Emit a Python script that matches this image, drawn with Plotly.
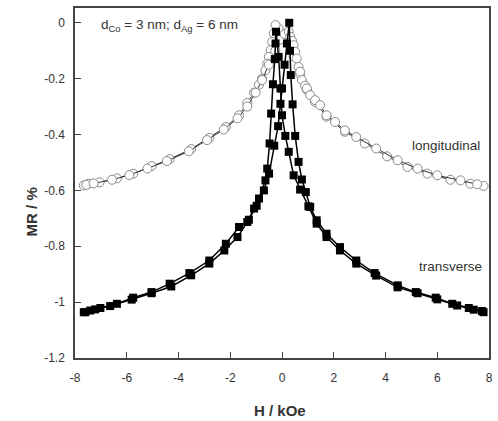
import plotly.graph_objects as go

# Longitudinal (open circles), two sweep branches
long_dec_H = [7.79, 7.28, 6.51, 5.62, 4.85, 4.06, 3.20, 2.43, 1.72, 1.28, 0.96, 0.70, 0.45, 0.20, 0.0,
              -0.13, -0.25, -0.32, -0.38, -0.44, -0.51, -0.57, -0.64, -0.77, -0.89, -1.08, -1.34, -1.66,
              -2.17, -2.81, -3.51, -4.34, -5.04, -5.75, -6.38, -7.05, -7.47, -7.66]
long_dec_MR = [-0.584, -0.576, -0.562, -0.540, -0.516, -0.478, -0.432, -0.390, -0.336, -0.283, -0.240,
               -0.185, -0.120, -0.070, -0.040, -0.020, -0.008, -0.038, -0.068, -0.098, -0.122, -0.146,
               -0.170, -0.200, -0.222, -0.250, -0.287, -0.331, -0.373, -0.412, -0.452, -0.488, -0.513,
               -0.540, -0.557, -0.571, -0.576, -0.582]
long_inc_H = [-7.56, -7.28, -6.57, -5.90, -5.20, -4.45, -3.60, -2.90, -2.25, -1.72, -1.34, -1.02, -0.77,
              -0.51, -0.26, -0.06, 0.10, 0.26, 0.32, 0.39, 0.45, 0.51, 0.57, 0.64, 0.70, 0.77, 0.89, 0.96,
              1.09, 1.28, 1.47, 1.72, 2.05, 2.43, 2.87, 3.64, 4.47, 5.24, 6.0, 6.90, 7.54]
long_inc_MR = [-0.580, -0.575, -0.562, -0.545, -0.522, -0.495, -0.460, -0.420, -0.382, -0.342, -0.300,
               -0.250, -0.205, -0.150, -0.100, -0.060, -0.040, -0.032, -0.050, -0.065, -0.080, -0.104,
               -0.128, -0.158, -0.175, -0.205, -0.225, -0.235, -0.259, -0.277, -0.295, -0.331, -0.355,
               -0.385, -0.409, -0.450, -0.492, -0.522, -0.546, -0.564, -0.578]

# Transverse (filled squares), two sweep branches
trans_inc_H = [-7.6, -7.22, -6.64, -5.81, -5.04, -4.28, -3.51, -2.81, -2.23, -1.72, -1.28, -0.98, -0.70,
               -0.50, -0.30, -0.15, -0.06, 0.0, 0.10, 0.19, 0.28, 0.31, 0.34, 0.41, 0.51, 0.64, 0.77, 0.92,
               1.09, 1.34, 1.72, 2.24, 2.87, 3.58, 4.47, 5.17, 5.94, 6.58, 7.22, 7.73]
trans_inc_MR = [-1.036, -1.026, -1.014, -0.991, -0.968, -0.944, -0.904, -0.862, -0.815, -0.767, -0.705,
                -0.655, -0.600, -0.540, -0.440, -0.370, -0.290, -0.235, -0.150, -0.074, 0.0, -0.100,
                -0.187, -0.292, -0.405, -0.498, -0.561, -0.606, -0.659, -0.707, -0.755, -0.803, -0.851,
                -0.896, -0.940, -0.964, -0.984, -1.006, -1.021, -1.032]
trans_dec_H = [7.79, 7.41, 6.77, 6.0, 5.24, 4.47, 3.64, 2.87, 2.24, 1.72, 1.34, 1.02, 0.70, 0.45, 0.26,
               0.13, 0.0, -0.06, -0.13, -0.23, -0.25, -0.28, -0.35, -0.42, -0.48, -0.57, -0.64, -0.89,
               -1.08, -1.34, -1.66, -2.17, -2.81, -3.58, -4.34, -5.04, -5.75, -6.38, -7.02, -7.41, -7.66]
trans_dec_MR = [-1.036, -1.027, -1.012, -0.990, -0.968, -0.947, -0.905, -0.862, -0.815, -0.767, -0.719,
                -0.657, -0.597, -0.546, -0.462, -0.405, -0.331, -0.235, -0.122, -0.032, -0.074, -0.130,
                -0.220, -0.325, -0.432, -0.522, -0.564, -0.629, -0.665, -0.713, -0.731, -0.791, -0.851,
                -0.896, -0.934, -0.964, -0.984, -1.006, -1.021, -1.030, -1.036]

x_ticks = [-8, -6, -4, -2, 0, 2, 4, 6, 8]
y_ticks = [0, -0.2, -0.4, -0.6, -0.8, -1, -1.2]
y_tick_text = ["0", "-0.2", "-0.4", "-0.6", "-0.8", "-1", "-1.2"]

FONT = "Liberation Sans, Arial, sans-serif"

fig = go.Figure()

for H, MR in [(long_dec_H, long_dec_MR), (long_inc_H, long_inc_MR)]:
    fig.add_trace(go.Scatter(
        x=H, y=MR, mode="lines+markers",
        line=dict(color="#333333", width=1),
        marker=dict(symbol="circle", size=9, color="white",
                    line=dict(color="#8a8a8a", width=1)),
        showlegend=False, hoverinfo="skip"))

for H, MR in [(trans_dec_H, trans_dec_MR), (trans_inc_H, trans_inc_MR)]:
    fig.add_trace(go.Scatter(
        x=H, y=MR, mode="lines+markers",
        line=dict(color="black", width=1.5),
        marker=dict(symbol="square", size=8, color="black",
                    line=dict(color="black", width=0)),
        showlegend=False, hoverinfo="skip"))

axis_common = dict(
    showgrid=False, zeroline=False, showline=True, linecolor="#444444", linewidth=1.5,
    mirror=True, ticks="inside", ticklen=6, tickwidth=1.2, tickcolor="#444444",
    tickfont=dict(family=FONT, size=12, color="#333333"),
)

fig.update_xaxes(range=[-8, 8], tickvals=x_ticks, ticktext=[str(v) for v in x_ticks],
                 ticklabelstandoff=8, **axis_common)
fig.update_yaxes(range=[-1.2, 0.053], tickvals=y_ticks, ticktext=y_tick_text,
                 ticklabelstandoff=6, **axis_common)

annotations = [
    dict(text="d<sub>Co</sub> = 3 nm; d<sub>Ag</sub> = 6 nm", x=99, y=26, xanchor="left", yanchor="middle",
         font=dict(family=FONT, size=13.5, color="#333333")),
    dict(text="longitudinal", x=413, y=145, xanchor="left", yanchor="middle",
         font=dict(family=FONT, size=13.5, color="#333333")),
    dict(text="transverse", x=420, y=266, xanchor="left", yanchor="middle",
         font=dict(family=FONT, size=13.5, color="#333333")),
    dict(text="<b>MR / %</b>", x=31, y=212, xanchor="center", yanchor="middle", textangle=-90,
         font=dict(family=FONT, size=15, color="#333333")),
    dict(text="<b>H / kOe</b>", x=282, y=410, xanchor="center", yanchor="middle",
         font=dict(family=FONT, size=15, color="#333333")),
]
W, Hh = 498, 421
L, R, T, B = 75, 5, 8, 63
pw, ph = W - L - R, Hh - T - B
for a in annotations:
    a["x"] = (a["x"] - L) / pw
    a["y"] = 1 - (a["y"] - T) / ph
    a["xref"] = "paper"
    a["yref"] = "paper"
    a["showarrow"] = False

fig.update_layout(
    width=W, height=Hh, margin=dict(l=L, r=R, t=T, b=B),
    paper_bgcolor="white", plot_bgcolor="white",
    annotations=annotations, showlegend=False,
)

fig.write_html("out.html")
